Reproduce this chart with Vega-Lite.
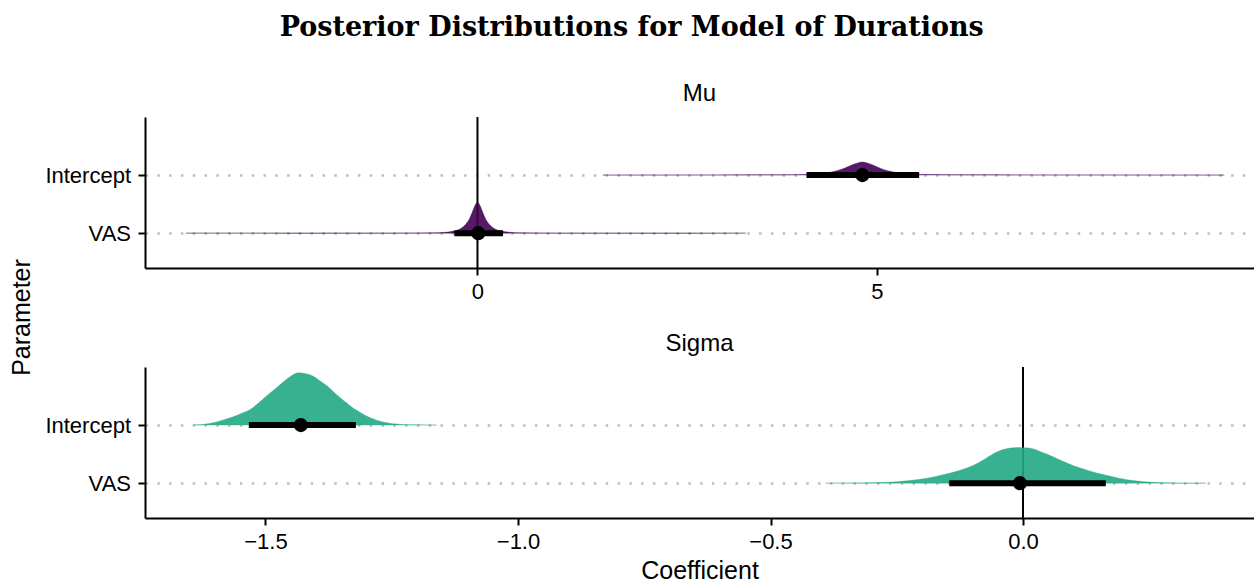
{
  "$schema": "https://vega.github.io/schema/vega-lite/v6.json",
  "padding": {"left": 9, "top": 14, "right": 0, "bottom": 0},
  "background": "white",
  "title": {"text": "Posterior Distributions for Model of Durations", "font": "DejaVu Serif", "fontSize": 27, "fontWeight": "bold", "color": "black", "anchor": "middle", "offset": 40},
  "bounds": "flush",
  "spacing": 99,
  "datasets": {
    "dens": [
      {"panel": "Mu", "param": "VAS", "x": -3.65, "base": 1, "top": 1.0},
      {"panel": "Mu", "param": "VAS", "x": -2.0, "base": 1, "top": 1.001},
      {"panel": "Mu", "param": "VAS", "x": -1.0, "base": 1, "top": 1.002},
      {"panel": "Mu", "param": "VAS", "x": -0.5, "base": 1, "top": 1.008},
      {"panel": "Mu", "param": "VAS", "x": -0.3, "base": 1, "top": 1.035},
      {"panel": "Mu", "param": "VAS", "x": -0.2, "base": 1, "top": 1.09},
      {"panel": "Mu", "param": "VAS", "x": -0.15, "base": 1, "top": 1.15},
      {"panel": "Mu", "param": "VAS", "x": -0.1, "base": 1, "top": 1.25},
      {"panel": "Mu", "param": "VAS", "x": -0.06, "base": 1, "top": 1.38},
      {"panel": "Mu", "param": "VAS", "x": -0.03, "base": 1, "top": 1.48},
      {"panel": "Mu", "param": "VAS", "x": 0.0, "base": 1, "top": 1.53},
      {"panel": "Mu", "param": "VAS", "x": 0.03, "base": 1, "top": 1.48},
      {"panel": "Mu", "param": "VAS", "x": 0.06, "base": 1, "top": 1.38},
      {"panel": "Mu", "param": "VAS", "x": 0.1, "base": 1, "top": 1.25},
      {"panel": "Mu", "param": "VAS", "x": 0.15, "base": 1, "top": 1.15},
      {"panel": "Mu", "param": "VAS", "x": 0.2, "base": 1, "top": 1.09},
      {"panel": "Mu", "param": "VAS", "x": 0.3, "base": 1, "top": 1.035},
      {"panel": "Mu", "param": "VAS", "x": 0.5, "base": 1, "top": 1.008},
      {"panel": "Mu", "param": "VAS", "x": 1.0, "base": 1, "top": 1.002},
      {"panel": "Mu", "param": "VAS", "x": 2.0, "base": 1, "top": 1.001},
      {"panel": "Mu", "param": "VAS", "x": 3.36, "base": 1, "top": 1.0},
      {"panel": "Mu", "param": "Intercept", "x": 1.57, "base": 2, "top": 2.0},
      {"panel": "Mu", "param": "Intercept", "x": 3.0, "base": 2, "top": 2.002},
      {"panel": "Mu", "param": "Intercept", "x": 3.8, "base": 2, "top": 2.006},
      {"panel": "Mu", "param": "Intercept", "x": 4.1, "base": 2, "top": 2.012},
      {"panel": "Mu", "param": "Intercept", "x": 4.3, "base": 2, "top": 2.025},
      {"panel": "Mu", "param": "Intercept", "x": 4.4, "base": 2, "top": 2.045},
      {"panel": "Mu", "param": "Intercept", "x": 4.5, "base": 2, "top": 2.075},
      {"panel": "Mu", "param": "Intercept", "x": 4.6, "base": 2, "top": 2.12},
      {"panel": "Mu", "param": "Intercept", "x": 4.7, "base": 2, "top": 2.18},
      {"panel": "Mu", "param": "Intercept", "x": 4.76, "base": 2, "top": 2.21},
      {"panel": "Mu", "param": "Intercept", "x": 4.82, "base": 2, "top": 2.225},
      {"panel": "Mu", "param": "Intercept", "x": 4.88, "base": 2, "top": 2.21},
      {"panel": "Mu", "param": "Intercept", "x": 4.95, "base": 2, "top": 2.175},
      {"panel": "Mu", "param": "Intercept", "x": 5.05, "base": 2, "top": 2.115},
      {"panel": "Mu", "param": "Intercept", "x": 5.15, "base": 2, "top": 2.07},
      {"panel": "Mu", "param": "Intercept", "x": 5.25, "base": 2, "top": 2.045},
      {"panel": "Mu", "param": "Intercept", "x": 5.35, "base": 2, "top": 2.025},
      {"panel": "Mu", "param": "Intercept", "x": 5.55, "base": 2, "top": 2.012},
      {"panel": "Mu", "param": "Intercept", "x": 6.3, "base": 2, "top": 2.005},
      {"panel": "Mu", "param": "Intercept", "x": 7.5, "base": 2, "top": 2.002},
      {"panel": "Mu", "param": "Intercept", "x": 9.35, "base": 2, "top": 2.0},
      {"panel": "Sigma", "param": "Intercept", "x": -1.643, "base": 2, "top": 2.0},
      {"panel": "Sigma", "param": "Intercept", "x": -1.625, "base": 2, "top": 2.01},
      {"panel": "Sigma", "param": "Intercept", "x": -1.604, "base": 2, "top": 2.04},
      {"panel": "Sigma", "param": "Intercept", "x": -1.585, "base": 2, "top": 2.085},
      {"panel": "Sigma", "param": "Intercept", "x": -1.564, "base": 2, "top": 2.143},
      {"panel": "Sigma", "param": "Intercept", "x": -1.548, "base": 2, "top": 2.2},
      {"panel": "Sigma", "param": "Intercept", "x": -1.531, "base": 2, "top": 2.265},
      {"panel": "Sigma", "param": "Intercept", "x": -1.515, "base": 2, "top": 2.37},
      {"panel": "Sigma", "param": "Intercept", "x": -1.498, "base": 2, "top": 2.5},
      {"panel": "Sigma", "param": "Intercept", "x": -1.48, "base": 2, "top": 2.63},
      {"panel": "Sigma", "param": "Intercept", "x": -1.465, "base": 2, "top": 2.74},
      {"panel": "Sigma", "param": "Intercept", "x": -1.45, "base": 2, "top": 2.84},
      {"panel": "Sigma", "param": "Intercept", "x": -1.435, "base": 2, "top": 2.9},
      {"panel": "Sigma", "param": "Intercept", "x": -1.42, "base": 2, "top": 2.885},
      {"panel": "Sigma", "param": "Intercept", "x": -1.405, "base": 2, "top": 2.84},
      {"panel": "Sigma", "param": "Intercept", "x": -1.392, "base": 2, "top": 2.76},
      {"panel": "Sigma", "param": "Intercept", "x": -1.379, "base": 2, "top": 2.68},
      {"panel": "Sigma", "param": "Intercept", "x": -1.365, "base": 2, "top": 2.57},
      {"panel": "Sigma", "param": "Intercept", "x": -1.352, "base": 2, "top": 2.47},
      {"panel": "Sigma", "param": "Intercept", "x": -1.339, "base": 2, "top": 2.38},
      {"panel": "Sigma", "param": "Intercept", "x": -1.326, "base": 2, "top": 2.29},
      {"panel": "Sigma", "param": "Intercept", "x": -1.313, "base": 2, "top": 2.22},
      {"panel": "Sigma", "param": "Intercept", "x": -1.3, "base": 2, "top": 2.155},
      {"panel": "Sigma", "param": "Intercept", "x": -1.28, "base": 2, "top": 2.085},
      {"panel": "Sigma", "param": "Intercept", "x": -1.26, "base": 2, "top": 2.04},
      {"panel": "Sigma", "param": "Intercept", "x": -1.235, "base": 2, "top": 2.015},
      {"panel": "Sigma", "param": "Intercept", "x": -1.207, "base": 2, "top": 2.005},
      {"panel": "Sigma", "param": "Intercept", "x": -1.161, "base": 2, "top": 2.0},
      {"panel": "Sigma", "param": "VAS", "x": -0.391, "base": 1, "top": 1.0},
      {"panel": "Sigma", "param": "VAS", "x": -0.33, "base": 1, "top": 1.004},
      {"panel": "Sigma", "param": "VAS", "x": -0.269, "base": 1, "top": 1.014},
      {"panel": "Sigma", "param": "VAS", "x": -0.23, "base": 1, "top": 1.04},
      {"panel": "Sigma", "param": "VAS", "x": -0.19, "base": 1, "top": 1.086},
      {"panel": "Sigma", "param": "VAS", "x": -0.16, "base": 1, "top": 1.14},
      {"panel": "Sigma", "param": "VAS", "x": -0.128, "base": 1, "top": 1.212},
      {"panel": "Sigma", "param": "VAS", "x": -0.1, "base": 1, "top": 1.3},
      {"panel": "Sigma", "param": "VAS", "x": -0.076, "base": 1, "top": 1.413},
      {"panel": "Sigma", "param": "VAS", "x": -0.058, "base": 1, "top": 1.51},
      {"panel": "Sigma", "param": "VAS", "x": -0.041, "base": 1, "top": 1.575},
      {"panel": "Sigma", "param": "VAS", "x": -0.025, "base": 1, "top": 1.605},
      {"panel": "Sigma", "param": "VAS", "x": -0.01, "base": 1, "top": 1.615},
      {"panel": "Sigma", "param": "VAS", "x": 0.012, "base": 1, "top": 1.605},
      {"panel": "Sigma", "param": "VAS", "x": 0.03, "base": 1, "top": 1.56},
      {"panel": "Sigma", "param": "VAS", "x": 0.047, "base": 1, "top": 1.5},
      {"panel": "Sigma", "param": "VAS", "x": 0.07, "base": 1, "top": 1.41},
      {"panel": "Sigma", "param": "VAS", "x": 0.1, "base": 1, "top": 1.3},
      {"panel": "Sigma", "param": "VAS", "x": 0.13, "base": 1, "top": 1.215},
      {"panel": "Sigma", "param": "VAS", "x": 0.161, "base": 1, "top": 1.143},
      {"panel": "Sigma", "param": "VAS", "x": 0.19, "base": 1, "top": 1.085},
      {"panel": "Sigma", "param": "VAS", "x": 0.222, "base": 1, "top": 1.04},
      {"panel": "Sigma", "param": "VAS", "x": 0.25, "base": 1, "top": 1.018},
      {"panel": "Sigma", "param": "VAS", "x": 0.284, "base": 1, "top": 1.006},
      {"panel": "Sigma", "param": "VAS", "x": 0.32, "base": 1, "top": 1.002},
      {"panel": "Sigma", "param": "VAS", "x": 0.362, "base": 1, "top": 1.0}
    ],
    "iv": [
      {"panel": "Mu", "param": "Intercept", "row": 2, "pt": 4.82, "lo": 4.12, "hi": 5.53},
      {"panel": "Mu", "param": "VAS", "row": 1, "pt": 0.01, "lo": -0.29, "hi": 0.32},
      {"panel": "Sigma", "param": "Intercept", "row": 2, "pt": -1.43, "lo": -1.533, "hi": -1.321},
      {"panel": "Sigma", "param": "VAS", "row": 1, "pt": -0.006, "lo": -0.146, "hi": 0.164}
    ],
    "zero": [{"v": 0}]
  },
  "vconcat": [
    {
      "width": 1109,
      "height": 151,
      "title": {"text": "Mu", "font": "Liberation Sans", "fontSize": 24, "fontWeight": "normal", "color": "black", "anchor": "middle", "offset": 10},
      "layer": [
        {
          "data": {"name": "zero"},
          "mark": {"type": "rule", "color": "black", "strokeWidth": 2},
          "encoding": {
            "x": {"field": "v", "type": "quantitative", "title": null, "scale": {"domain": [-4.163, 9.723], "nice": false, "zero": false}, "axis": {"title": null, "values": [0, 5], "format": "d", "grid": false}}
          }
        },
        {
          "data": {"name": "dens"},
          "transform": [{"filter": "datum.panel === 'Mu'"}],
          "mark": {"type": "area", "interpolate": "monotone", "fill": "#440154", "fillOpacity": 0.9, "stroke": "#440154", "strokeWidth": 0.8, "strokeOpacity": 0.45},
          "encoding": {
            "x": {"field": "x", "type": "quantitative", "title": null, "scale": {"domain": [-4.163, 9.723], "nice": false, "zero": false}, "axis": {"title": null, "values": [0, 5], "format": "d", "grid": false}},
            "y": {"field": "top", "type": "quantitative", "title": "Parameter", "scale": {"domain": [0.4, 3.0], "nice": false, "zero": false},
                  "axis": {"title": "Parameter", "titleY": 200, "titlePadding": 10.5, "values": [1, 2], "labelExpr": "datum.value == 2 ? 'Intercept' : 'VAS'", "grid": true, "gridColor": "#bdbdbd", "gridDash": [2.5, 9.3], "gridWidth": 2.5}},
            "y2": {"field": "base"},
            "detail": {"field": "param"}
          }
        },
        {
          "data": {"name": "iv"},
          "transform": [{"filter": "datum.panel === 'Mu'"}],
          "mark": {"type": "rule", "color": "black", "strokeWidth": 6},
          "encoding": {
            "x": {"field": "lo", "type": "quantitative", "title": null, "scale": {"domain": [-4.163, 9.723], "nice": false, "zero": false}, "axis": {"title": null, "values": [0, 5], "format": "d", "grid": false}},
            "x2": {"field": "hi"},
            "y": {"field": "row", "type": "quantitative", "title": "Parameter", "scale": {"domain": [0.4, 3.0], "nice": false, "zero": false},
                  "axis": {"title": "Parameter", "titleY": 200, "titlePadding": 10.5, "values": [1, 2], "labelExpr": "datum.value == 2 ? 'Intercept' : 'VAS'", "grid": true, "gridColor": "#bdbdbd", "gridDash": [2.5, 9.3], "gridWidth": 2.5}}
          }
        },
        {
          "data": {"name": "iv"},
          "transform": [{"filter": "datum.panel === 'Mu'"}],
          "mark": {"type": "point", "shape": "circle", "filled": true, "color": "black", "opacity": 1, "size": 200},
          "encoding": {
            "x": {"field": "pt", "type": "quantitative", "title": null, "scale": {"domain": [-4.163, 9.723], "nice": false, "zero": false}, "axis": {"title": null, "values": [0, 5], "format": "d", "grid": false}},
            "y": {"field": "row", "type": "quantitative", "title": "Parameter", "scale": {"domain": [0.4, 3.0], "nice": false, "zero": false},
                  "axis": {"title": "Parameter", "titleY": 200, "titlePadding": 10.5, "values": [1, 2], "labelExpr": "datum.value == 2 ? 'Intercept' : 'VAS'", "grid": true, "gridColor": "#bdbdbd", "gridDash": [2.5, 9.3], "gridWidth": 2.5}}
          }
        }
      ]
    },
    {
      "width": 1109,
      "height": 151,
      "title": {"text": "Sigma", "font": "Liberation Sans", "fontSize": 24, "fontWeight": "normal", "color": "black", "anchor": "middle", "offset": 10},
      "layer": [
        {
          "data": {"name": "zero"},
          "mark": {"type": "rule", "color": "black", "strokeWidth": 2},
          "encoding": {
            "x": {"field": "v", "type": "quantitative", "title": "Coefficient", "scale": {"domain": [-1.7386, 0.4574], "nice": false, "zero": false}, "axis": {"title": "Coefficient", "titlePadding": 6, "values": [-1.5, -1.0, -0.5, 0.0], "format": ".1f", "grid": false}}
          }
        },
        {
          "data": {"name": "dens"},
          "transform": [{"filter": "datum.panel === 'Sigma'"}],
          "mark": {"type": "area", "interpolate": "monotone", "fill": "#22a884", "fillOpacity": 0.9, "stroke": "#22a884", "strokeWidth": 0.8, "strokeOpacity": 0.45},
          "encoding": {
            "x": {"field": "x", "type": "quantitative", "title": "Coefficient", "scale": {"domain": [-1.7386, 0.4574], "nice": false, "zero": false}, "axis": {"title": "Coefficient", "titlePadding": 6, "values": [-1.5, -1.0, -0.5, 0.0], "format": ".1f", "grid": false}},
            "y": {"field": "top", "type": "quantitative", "title": null, "scale": {"domain": [0.4, 3.0], "nice": false, "zero": false},
                  "axis": {"title": null, "values": [1, 2], "labelExpr": "datum.value == 2 ? 'Intercept' : 'VAS'", "grid": true, "gridColor": "#bdbdbd", "gridDash": [2.5, 9.3], "gridWidth": 2.5}},
            "y2": {"field": "base"},
            "detail": {"field": "param"}
          }
        },
        {
          "data": {"name": "iv"},
          "transform": [{"filter": "datum.panel === 'Sigma'"}],
          "mark": {"type": "rule", "color": "black", "strokeWidth": 6},
          "encoding": {
            "x": {"field": "lo", "type": "quantitative", "title": "Coefficient", "scale": {"domain": [-1.7386, 0.4574], "nice": false, "zero": false}, "axis": {"title": "Coefficient", "titlePadding": 6, "values": [-1.5, -1.0, -0.5, 0.0], "format": ".1f", "grid": false}},
            "x2": {"field": "hi"},
            "y": {"field": "row", "type": "quantitative", "title": null, "scale": {"domain": [0.4, 3.0], "nice": false, "zero": false},
                  "axis": {"title": null, "values": [1, 2], "labelExpr": "datum.value == 2 ? 'Intercept' : 'VAS'", "grid": true, "gridColor": "#bdbdbd", "gridDash": [2.5, 9.3], "gridWidth": 2.5}}
          }
        },
        {
          "data": {"name": "iv"},
          "transform": [{"filter": "datum.panel === 'Sigma'"}],
          "mark": {"type": "point", "shape": "circle", "filled": true, "color": "black", "opacity": 1, "size": 200},
          "encoding": {
            "x": {"field": "pt", "type": "quantitative", "title": "Coefficient", "scale": {"domain": [-1.7386, 0.4574], "nice": false, "zero": false}, "axis": {"title": "Coefficient", "titlePadding": 6, "values": [-1.5, -1.0, -0.5, 0.0], "format": ".1f", "grid": false}},
            "y": {"field": "row", "type": "quantitative", "title": null, "scale": {"domain": [0.4, 3.0], "nice": false, "zero": false},
                  "axis": {"title": null, "values": [1, 2], "labelExpr": "datum.value == 2 ? 'Intercept' : 'VAS'", "grid": true, "gridColor": "#bdbdbd", "gridDash": [2.5, 9.3], "gridWidth": 2.5}}
          }
        }
      ]
    }
  ],
  "config": {
    "view": {"stroke": null},
    "font": "Liberation Sans",
    "axis": {"domainColor": "black", "domainWidth": 2, "tickColor": "black", "tickWidth": 2, "tickSize": 7, "labelColor": "black", "labelFontSize": 22, "titleColor": "black", "titleFontWeight": "normal", "titleFontSize": 25, "labelFlush": false, "labelOverlap": false},
    "axisX": {"labelPadding": 6},
    "axisY": {"labelPadding": 7.5}
  }
}
